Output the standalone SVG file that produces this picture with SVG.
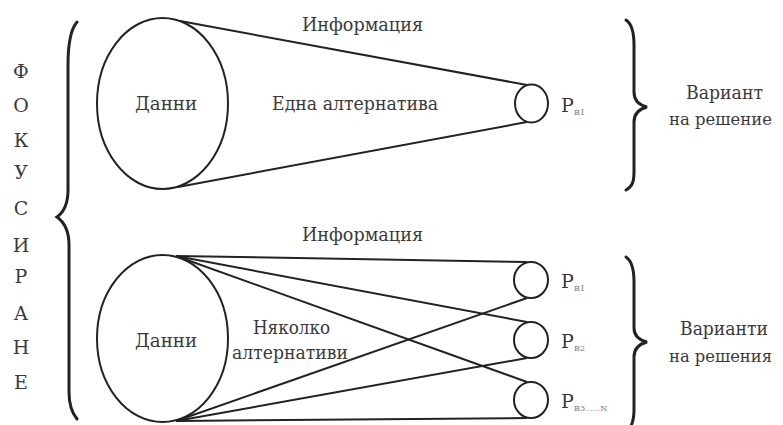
<svg xmlns="http://www.w3.org/2000/svg" width="783" height="425" viewBox="0 0 783 425">
<style>
text{font-family:"DejaVu Serif",serif;}
.t{font-size:19px;fill:#3a3a3a;}
.n{font-size:17px;}
.c{text-anchor:middle;}
.s{font-size:8px;fill:#777;}
.ln{stroke:#222;stroke-width:2;fill:none;}
.br{stroke:#222;stroke-width:3;fill:none;stroke-linecap:round;stroke-linejoin:miter;}
</style>
<rect width="783" height="425" fill="#fff"/>
<g id="focus-label" class="t c">
<text x="21" y="78">Ф</text>
<text x="21" y="112">О</text>
<text x="21" y="147">К</text>
<text x="21" y="179">У</text>
<text x="21" y="215">С</text>
<text x="21" y="252">И</text>
<text x="21" y="283">Р</text>
<text x="21" y="320">А</text>
<text x="21" y="354">Н</text>
<text x="21" y="389">Е</text>
</g>
<g id="brace-left">
<path class="br" d="M77,22 C70,30 68,45 68,65 L68,190 C68,204 64,212 57,217 C64,222 69,230 69,245 L69,392 C69,404 72,413 77,419"/>
</g>
<g id="brace-top-right">
<path class="br" d="M626,20 C632,24 634,32 634,45 L634,92 C634,100 639,105 647,107 C639,109 634,114 634,122 L634,172 C634,182 632,187 626,190"/>
</g>
<g id="brace-bottom-right">
<path class="br" d="M626,257 C632,261 634,269 634,282 L634,328 C634,336 639,340 647,342 C639,344 634,349 634,357 L634,410 C634,420 632,426 628,430"/>
</g>
<g id="connectors" class="ln">
<line x1="180" y1="21" x2="527" y2="85"/>
<line x1="178" y1="187" x2="527" y2="122"/>
<line x1="176" y1="256" x2="527" y2="262"/>
<line x1="176" y1="256" x2="527" y2="322"/>
<line x1="176" y1="256" x2="527" y2="382"/>
<line x1="176" y1="421" x2="527" y2="298"/>
<line x1="176" y1="421" x2="527" y2="358"/>
<line x1="176" y1="421" x2="527" y2="418"/>
</g>
<g id="data-top">
<ellipse class="ln" cx="162.5" cy="103.5" rx="65.5" ry="85.5"/>
<text class="t" x="135" y="110" textLength="62" lengthAdjust="spacingAndGlyphs">Данни</text>
</g>
<g id="data-bottom">
<ellipse class="ln" cx="162.5" cy="338.5" rx="65.5" ry="83.5"/>
<text class="t" x="135" y="347" textLength="62" lengthAdjust="spacingAndGlyphs">Данни</text>
</g>
<g id="info-top"><text class="t" x="302" y="31" textLength="121" lengthAdjust="spacingAndGlyphs">Информация</text></g>
<g id="alt-one"><text class="t" x="272" y="110" textLength="166" lengthAdjust="spacingAndGlyphs">Една алтернатива</text></g>
<g id="info-bottom"><text class="t" x="302" y="241" textLength="121" lengthAdjust="spacingAndGlyphs">Информация</text></g>
<g id="alt-many" class="t">
<text x="253" y="334" textLength="77" lengthAdjust="spacingAndGlyphs">Няколко</text>
<text x="232" y="359" textLength="116" lengthAdjust="spacingAndGlyphs">алтернативи</text>
</g>
<g id="pb1-top">
<ellipse class="ln" cx="531.5" cy="103.5" rx="16.5" ry="19"/>
<text class="t" x="561" y="112">P</text><text class="s" x="574" y="115">B1</text>
</g>
<g id="pb1">
<ellipse class="ln" cx="531" cy="280" rx="17" ry="18"/>
<text class="t" x="561" y="288">P</text><text class="s" x="574" y="291">B1</text>
</g>
<g id="pb2">
<ellipse class="ln" cx="531" cy="340" rx="17" ry="18"/>
<text class="t" x="561" y="348">P</text><text class="s" x="574" y="351">B2</text>
</g>
<g id="pb3">
<ellipse class="ln" cx="531" cy="400" rx="17" ry="18"/>
<text class="t" x="561" y="408">P</text><text class="s" x="574" y="411">B3......N</text>
</g>
<g id="variant-one" class="t">
<text x="686" y="99" textLength="77" lengthAdjust="spacingAndGlyphs">Вариант</text>
<text class="n" x="669" y="125" textLength="103" lengthAdjust="spacingAndGlyphs">на решение</text>
</g>
<g id="variant-many" class="t">
<text x="680" y="335" textLength="88" lengthAdjust="spacingAndGlyphs">Варианти</text>
<text class="n" x="669" y="362" textLength="103" lengthAdjust="spacingAndGlyphs">на решения</text>
</g>
</svg>
